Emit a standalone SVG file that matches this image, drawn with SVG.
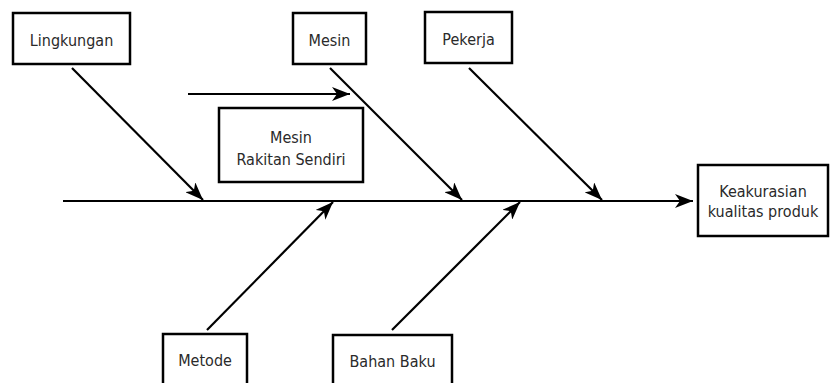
<svg xmlns="http://www.w3.org/2000/svg" width="830" height="383" viewBox="0 0 830 383">
<style>
.box{fill:#fff;stroke:#000;stroke-width:2.5}
.lbl{font-family:"DejaVu Sans",Verdana,sans-serif;font-size:16px;fill:#2a2a2a;text-anchor:middle}
.con{stroke:#000;stroke-width:2.2;fill:none;marker-end:url(#ah)}
</style>
<defs>
<marker id="ah" markerUnits="userSpaceOnUse" viewBox="0 0 18 14" refX="18" refY="7" markerWidth="18" markerHeight="14" orient="auto">
<path d="M0,0 L18,7 L0,14 L5,7 z" fill="#000"/>
</marker>
</defs>
<rect width="830" height="383" fill="#fff"/>
<g id="connectors">
<line class="con" x1="63" y1="201" x2="693" y2="201"/>
<line class="con" x1="72" y1="68" x2="203" y2="200"/>
<line class="con" x1="330" y1="68" x2="462" y2="200"/>
<line class="con" x1="469" y1="68" x2="602" y2="200"/>
<line class="con" x1="188" y1="94" x2="350" y2="94"/>
<line class="con" x1="207" y1="330" x2="333" y2="202"/>
<line class="con" x1="392" y1="330" x2="520" y2="202"/>
</g>
<g id="lingkungan"><rect class="box" x="13" y="13" width="117" height="51"/><text class="lbl" transform="translate(71.5,46) scale(0.9,1)">Lingkungan</text></g>
<g id="mesin"><rect class="box" x="293" y="13" width="73" height="51"/><text class="lbl" transform="translate(329.5,46) scale(0.9,1)">Mesin</text></g>
<g id="pekerja"><rect class="box" x="425" y="12" width="87" height="51"/><text class="lbl" transform="translate(468.5,45) scale(0.9,1)">Pekerja</text></g>
<g id="mesin-rakitan"><rect class="box" x="219" y="108" width="144" height="74"/><text class="lbl" transform="translate(291,143) scale(0.9,1)">Mesin</text><text class="lbl" transform="translate(291,165) scale(0.9,1)">Rakitan Sendiri</text></g>
<g id="keakurasian"><rect class="box" x="698" y="165" width="130" height="71"/><text class="lbl" transform="translate(763,197) scale(0.9,1)">Keakurasian</text><text class="lbl" transform="translate(763,217) scale(0.9,1)">kualitas produk</text></g>
<g id="metode"><rect class="box" x="163" y="334" width="84" height="60"/><text class="lbl" transform="translate(205,366) scale(0.9,1)">Metode</text></g>
<g id="bahan-baku"><rect class="box" x="333" y="335" width="119" height="60"/><text class="lbl" transform="translate(392.5,367) scale(0.9,1)">Bahan Baku</text></g>
</svg>
